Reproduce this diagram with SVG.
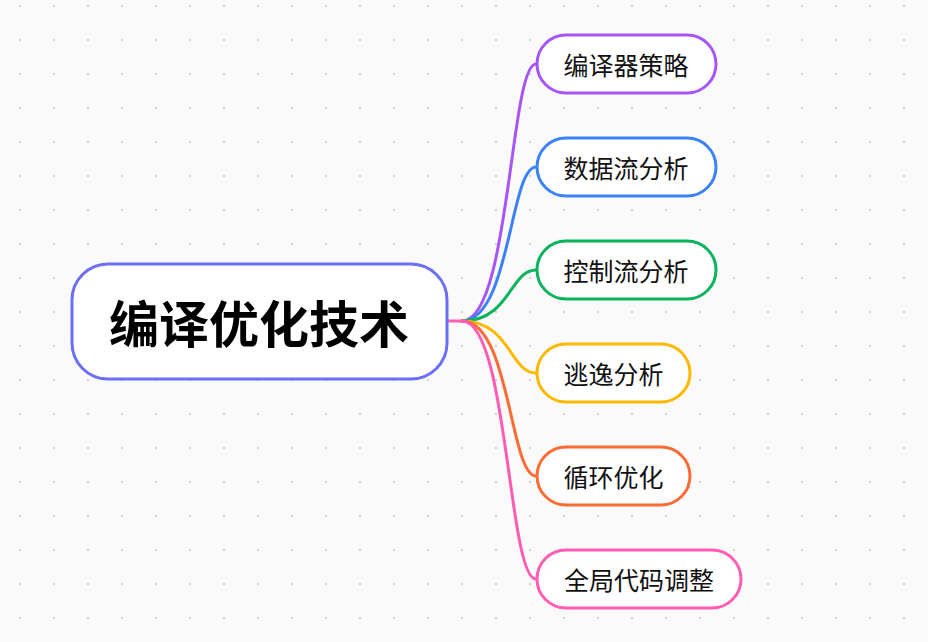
<svg xmlns="http://www.w3.org/2000/svg" width="928" height="642" viewBox="0 0 928 642">
  <defs>
    <pattern id="dots" x="0" y="0" width="34" height="34" patternUnits="userSpaceOnUse">
      <rect x="19" y="5" width="2" height="2" fill="#cfcfcf"/>
    </pattern>
    <style>
      .node { fill: #ffffff; stroke-width: 3; }
      .label { font-family: "Noto Sans CJK SC", "Noto Sans", sans-serif; font-size: 25px; fill: #111111; text-anchor: middle; dominant-baseline: central; }
      .root-label { font-family: "Noto Sans CJK SC", "Noto Sans", sans-serif; font-size: 50px; font-weight: bold; fill: #000000; text-anchor: middle; dominant-baseline: central; }
      .link { fill: none; stroke-width: 3; stroke-linecap: round; }
    </style>
  </defs>
  <rect width="928" height="642" fill="#fafafa"/>
  <rect width="928" height="642" fill="url(#dots)"/>

  <g id="connectors">
    <path class="link" stroke="#a855f7" d="M462,321 C510,321 510,64 536,64"/>
    <path class="link" stroke="#3b82f6" d="M462,321 C510,321 510,167 536,167"/>
    <path class="link" stroke="#0bb35c" d="M462,321 C510,321 510,270 536,270"/>
    <path class="link" stroke="#ffb800" d="M462,321 C510,321 510,373 536,373"/>
    <path class="link" stroke="#ff6b35" d="M462,321 C510,321 510,476 536,476"/>
    <path class="link" stroke="#ff5cb4" d="M462,321 C508,321 508,579 536,579"/>
    <path class="link" stroke="#ff5cb4" d="M448,321 L462,321"/>
  </g>

  <g id="root">
    <rect class="node" x="72" y="264" width="375" height="115" rx="36" stroke="#6b6ef6"/>
    <text class="root-label" x="259" y="321">编译优化技术</text>
  </g>

  <g id="n1">
    <rect class="node" x="537" y="35" width="179" height="58" rx="29" stroke="#a855f7"/>
    <text class="label" x="626" y="64">编译器策略</text>
  </g>
  <g id="n2">
    <rect class="node" x="537" y="138" width="179" height="58" rx="29" stroke="#3b82f6"/>
    <text class="label" x="626" y="167">数据流分析</text>
  </g>
  <g id="n3">
    <rect class="node" x="537" y="241" width="179" height="58" rx="29" stroke="#0bb35c"/>
    <text class="label" x="626" y="270">控制流分析</text>
  </g>
  <g id="n4">
    <rect class="node" x="537" y="344" width="153" height="58" rx="29" stroke="#ffb800"/>
    <text class="label" x="613.5" y="373">逃逸分析</text>
  </g>
  <g id="n5">
    <rect class="node" x="537" y="447" width="153" height="58" rx="29" stroke="#ff6b35"/>
    <text class="label" x="613.5" y="476">循环优化</text>
  </g>
  <g id="n6">
    <rect class="node" x="537" y="550" width="204" height="58" rx="29" stroke="#ff5cb4"/>
    <text class="label" x="639" y="579">全局代码调整</text>
  </g>
</svg>
